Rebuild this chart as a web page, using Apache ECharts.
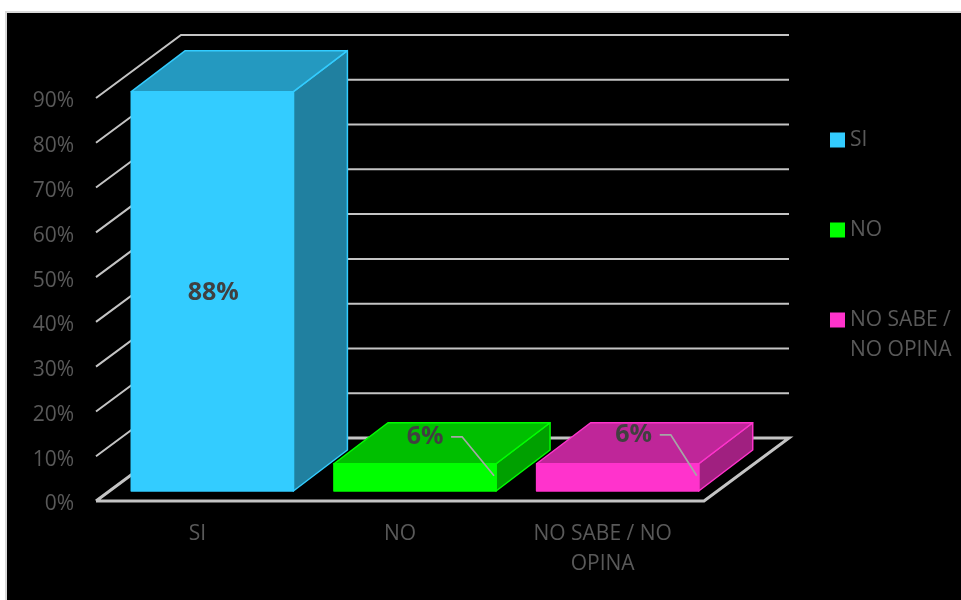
<!DOCTYPE html>
<html>
<head>
<meta charset="utf-8">
<style>html,body{margin:0;padding:0;background:#fff}#c{width:961px;height:600px}</style>
<script src="https://cdn.jsdelivr.net/npm/echarts@6/dist/echarts.min.js"></script>
</head>
<body>
<div id="c"></div>
<script>
const categories = ['SI', 'NO', 'NO SABE / NO OPINA'];
const legendNames = ['SI', 'NO', 'NO SABE / NO OPINA'];
const barValues = [88, 6, 6];
const yTicks = [0, 10, 20, 30, 40, 50, 60, 70, 80, 90];
const frontColors = ['#33CCFF', '#00FF00', '#FF33CC'];
const topColors = ['#2499C0', '#00BF00', '#BF2699'];
const sideColors = ['#2080A0', '#00A000', '#A02080'];

const FONT = '"Open Sans", sans-serif';
const TEXT = '#595959';
const WALL = [85, -63];      // depth of the chart box in pixels
const BAR_DEPTH = [54, -41]; // depth of each bar
const BAR_SHIFT = [15, -10]; // bar front face relative to the box front
const BAR_WIDTH = 0.8;       // share of the category band

function wallRender(params, api) {
  const v = api.value(1);
  const p = api.coord([0, v]);
  const rect = params.coordSys;
  const left = rect.x, right = rect.x + rect.width, y = p[1];
  const style = { stroke: '#C4C4C4', lineWidth: v === 0 ? 3 : 2, fill: 'none' };
  const pts = [[left, y], [left + WALL[0], y + WALL[1]], [right + WALL[0], y + WALL[1]]];
  if (v === 0) pts.push([right, y], [left, y]);
  return { type: 'polyline', shape: { points: pts }, style };
}

function barRender(nudge) {
  return function (params, api) {
    const cat = api.value(0), val = api.value(1);
    const c0 = api.coord([cat, 0]);
    const c1 = api.coord([cat, val]);
    const band = api.size([1, 0])[0];
    const w = band * BAR_WIDTH;
    const i = params.seriesIndex - 1;
    const x0 = c0[0] - w / 2 + BAR_SHIFT[0], x1 = x0 + w;
    const yb = c0[1] + BAR_SHIFT[1], yt = c1[1] + BAR_SHIFT[1];
    const dx = BAR_DEPTH[0], dy = BAR_DEPTH[1];
    const edge = { stroke: frontColors[i], lineWidth: 1.5, lineJoin: 'round' };
    const children = [
      { type: 'polygon', shape: { points: [[x1, yt], [x1 + dx, yt + dy], [x1 + dx, yb + dy], [x1, yb]] },
        style: Object.assign({ fill: sideColors[i] }, edge) },
      { type: 'polygon', shape: { points: [[x0, yt], [x0 + dx, yt + dy], [x1 + dx, yt + dy], [x1, yt]] },
        style: Object.assign({ fill: topColors[i] }, edge) },
      { type: 'rect', shape: { x: x0, y: yt, width: w, height: yb - yt },
        style: Object.assign({ fill: frontColors[i] }, edge) }
    ];
    const label = { fill: '#404040', font: 'bold 25px ' + FONT, align: 'center', verticalAlign: 'middle', text: val + '%' };
    if (val > 20) {
      children.push({ type: 'text', style: Object.assign({ x: x0 + w / 2 + 1, y: (yt + yb) / 2 + 2 }, label) });
    } else {
      const lx = x1 - 72 + nudge[0], ly = yt - 27 + nudge[1];
      children.push({
        type: 'polyline',
        shape: { points: [[x1 - 45 + nudge[0], ly], [x1 - 34 + nudge[0], ly], [x1 - 2, yt + 12]] },
        style: { stroke: '#A6A6A6', lineWidth: 1.75, fill: 'none' }
      });
      children.push({ type: 'text', style: Object.assign({ x: lx + 1, y: ly }, label) });
    }
    return { type: 'group', children };
  };
}

const labelNudges = [[0, 0], [0, 0], [6, -2]];
const barSeries = legendNames.map((name, i) => ({
  name,
  type: 'custom',
  xAxisIndex: 0,
  yAxisIndex: 1,
  z: 5,
  clip: false,
  itemStyle: { color: frontColors[i] },
  renderItem: barRender(labelNudges[i]),
  encode: { x: 0, y: 1 },
  data: [[i, barValues[i]]]
}));

const legendTops = [120, 210, 270];
const legends = legendNames.map((name, i) => ({
  data: [{ name, icon: 'rect' }],
  left: 825,
  top: legendTops[i],
  orient: 'vertical',
  itemWidth: 15,
  itemHeight: 15,
  selectedMode: false,
  itemStyle: { borderWidth: 0 },
  // the blank first line keeps the swatch level with the first line of text
  formatter: n => n.includes('/') ? '\n' + n.replace('/ ', '/\n') : n,
  textStyle: { color: TEXT, fontFamily: FONT, fontSize: 21, lineHeight: 30 }
}));

const option = {
  animation: false,
  backgroundColor: '#fff',
  graphic: [{
    type: 'rect', silent: true, z: -10,
    shape: { x: 6, y: 12, width: 970, height: 600 },
    style: { fill: '#000', stroke: '#D9D9D9', lineWidth: 2 }
  }],
  grid: { left: 96, width: 608, top: 98, height: 403 },
  legend: legends,
  xAxis: {
    type: 'category',
    data: categories,
    axisLine: { show: false },
    axisTick: { show: false },
    axisLabel: {
      color: TEXT, fontFamily: FONT, fontSize: 21, lineHeight: 30, margin: 18, interval: 0,
      formatter: s => s.replace('/ NO ', '/ NO\n')
    }
  },
  yAxis: [{
    type: 'value', min: 0, max: 90, interval: 10,
    axisLine: { show: false },
    axisTick: { show: false },
    splitLine: { show: false },
    axisLabel: { color: TEXT, fontFamily: FONT, fontSize: 21, margin: 22, verticalAlign: 'top', lineHeight: 7, formatter: '{value}%' }
  }, {
    // bars stand slightly taller than the wall scale, as drawn in the picture
    type: 'value', min: 0, max: 88.8, show: false, splitLine: { show: false }
  }],
  series: [{
    type: 'custom',
    name: 'walls',
    z: 1,
    clip: false,
    silent: true,
    renderItem: wallRender,
    encode: { x: 0, y: 1 },
    data: yTicks.map(v => [0, v])
  }].concat(barSeries)
};

const chart = echarts.init(document.getElementById('c'), null, { renderer: 'canvas' });
chart.setOption(option);
</script>
</body>
</html>
